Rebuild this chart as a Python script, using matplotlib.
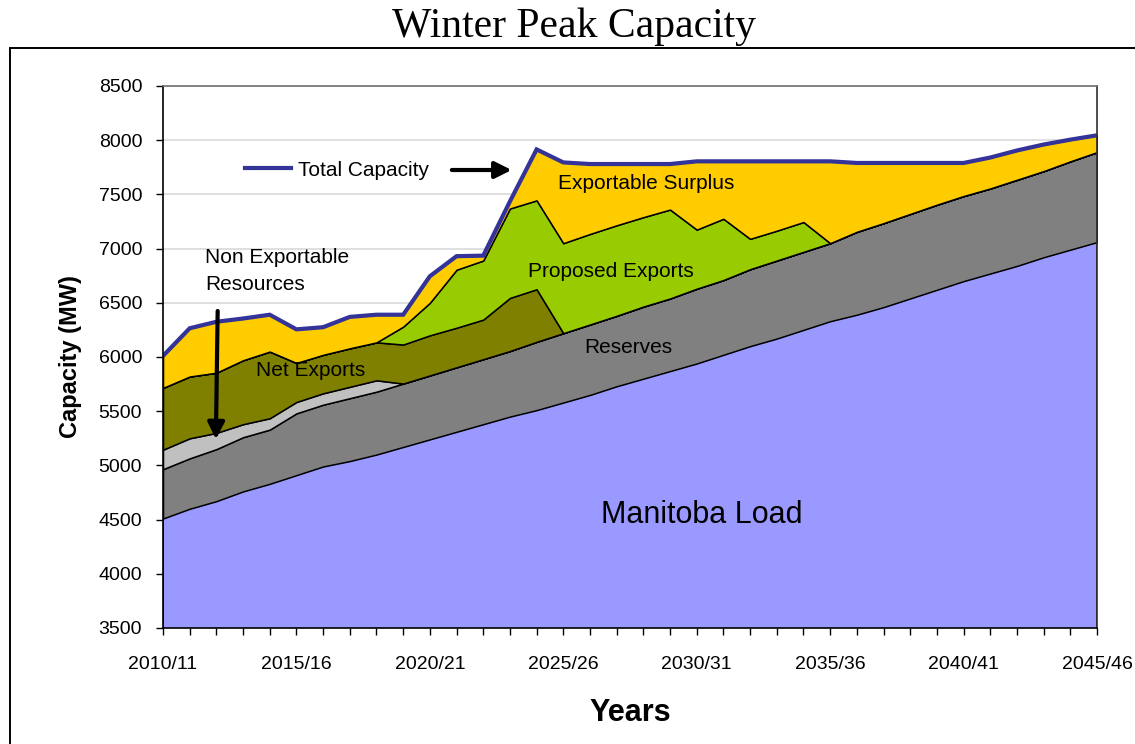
import matplotlib

matplotlib.use("Agg")
import matplotlib.pyplot as plt
from matplotlib.lines import Line2D
from matplotlib.patches import Rectangle
import numpy as np

# fiscal years 2010/11 .. 2045/46
years = [f"{y}/{(y + 1) % 100:02d}" for y in range(2010, 2046)]
tick_labels = ["2010/11", "2015/16", "2020/21", "2025/26", "2030/31", "2035/36", "2040/41", "2045/46"]

manitoba_load = [4510, 4600, 4670, 4760, 4830, 4910, 4990, 5040, 5100, 5170, 5240, 5310,
                 5380, 5450, 5510, 5580, 5650, 5730, 5800, 5870, 5940, 6020, 6100, 6170,
                 6250, 6330, 6390, 6460, 6540, 6620, 6700, 6770, 6840, 6920, 6990, 7060]
reserves = [455, 465, 480, 500, 500, 570, 570, 580, 580, 585, 590, 595,
            600, 605, 630, 640, 650, 650, 665, 670, 690, 690, 710, 720,
            720, 720, 765, 775, 780, 785, 785, 785, 795, 795, 815, 830]
non_exportable = [180, 185, 150, 120, 105, 105, 105, 105, 105, 0, 0, 0,
                  0, 0, 0, 0, 0, 0, 0, 0, 0, 0, 0, 0,
                  0, 0, 0, 0, 0, 0, 0, 0, 0, 0, 0, 0]
net_exports = [570, 570, 555, 590, 615, 360, 355, 355, 350, 360, 370, 365,
               365, 490, 485, 0, 0, 0, 0, 0, 0, 0, 0, 0,
               0, 0, 0, 0, 0, 0, 0, 0, 0, 0, 0, 0]
proposed_exports = [0, 0, 0, 0, 0, 0, 0, 0, 0, 165, 300, 535,
                    545, 825, 820, 830, 835, 835, 825, 820, 545, 565, 280, 275,
                    275, 0, 0, 0, 0, 0, 0, 0, 0, 0, 0, 0]
exportable_surplus = [295, 445, 470, 385, 340, 310, 255, 290, 255, 110, 245, 125,
                      45, 65, 470, 745, 645, 565, 490, 420, 630, 530, 715, 640,
                      560, 755, 635, 555, 470, 385, 305, 285, 270, 245, 200, 155]
total_capacity = [6010, 6265, 6325, 6355, 6390, 6255, 6275, 6370, 6390, 6390, 6745, 6930,
                  6935, 7435, 7915, 7795, 7780, 7780, 7780, 7780, 7805, 7805, 7805, 7805,
                  7805, 7805, 7790, 7790, 7790, 7790, 7790, 7840, 7905, 7960, 8005, 8045]

plt.rcParams["font.family"] = ["Liberation Sans", "DejaVu Sans"]

colors = ["#9999FF", "#808080", "#C0C0C0", "#808000", "#99CC00", "#FFCC00"]
x = np.arange(len(years))

fig = plt.figure(figsize=(11.35, 7.44), dpi=100)
ax = fig.add_axes([163 / 1135, 1 - 628 / 744, 934 / 1135, 542 / 744])

ax.stackplot(x, manitoba_load, reserves, non_exportable, net_exports,
             proposed_exports, exportable_surplus,
             colors=colors, edgecolor="black", linewidth=1.1, zorder=2)
ax.plot(x, total_capacity, color="#333399", linewidth=3.0, zorder=4,
        solid_joinstyle="miter")

ax.set_xlim(0, len(years) - 1)
ax.set_ylim(3500, 8500)
ax.set_yticks(np.arange(3500, 8501, 500))
ax.set_xticks(x)
ax.set_xticklabels([y if y in tick_labels else "" for y in years])
ax.tick_params(axis="x", direction="out", length=5, width=1, labelsize=14, pad=15, colors="black")
ax.tick_params(axis="y", direction="out", length=5, width=1, labelsize=14, pad=10, colors="black")
ax.grid(axis="y", color="#d9d9d9", linewidth=1.2, zorder=0)
ax.set_axisbelow(True)
ax.spines["left"].set_color("black")
ax.spines["bottom"].set_color("black")
ax.spines["top"].set_color("#707070")
ax.spines["right"].set_color("#303030")
for s in ax.spines.values():
    s.set_linewidth(1.2)
    s.set_zorder(5)

ax.set_ylabel("Capacity (MW)", fontsize=17, fontweight="bold", labelpad=12)
ax.set_xlabel("Years", fontsize=22, fontweight="bold", labelpad=18)

# in-chart labels
ax.text(20.2, 4540, "Manitoba Load", fontsize=22, ha="center", va="center", zorder=6)
ax.text(18.1, 7596, "Exportable Surplus", fontsize=15, ha="center", va="center", zorder=6)
ax.text(16.8, 6793, "Proposed Exports", fontsize=15, ha="center", va="center", zorder=6)
ax.text(17.45, 6085, "Reserves", fontsize=15, ha="center", va="center", zorder=6)
ax.text(5.55, 5880, "Net Exports", fontsize=15, ha="center", va="center", zorder=6)
ax.text(1.57, 6795, "Non Exportable\nResources", fontsize=15, ha="left", va="center",
        linespacing=1.5, zorder=6)

arrow_style = dict(arrowstyle="-|>,head_length=1.0,head_width=0.5", color="black", lw=3)
ax.annotate("", xy=(1.98, 5215), xytext=(2.05, 6450), arrowprops=arrow_style, zorder=6)
ax.annotate("", xy=(13.17, 7725), xytext=(10.72, 7725), arrowprops=arrow_style, zorder=6)

legend_line = Line2D([], [], color="#333399", linewidth=3.0)
ax.legend(handles=[legend_line], labels=["Total Capacity"], loc="center left",
          bbox_to_anchor=(0.0878, 0.845), frameon=False, fontsize=15,
          handlelength=2.2, handletextpad=0.35, borderpad=0, borderaxespad=0)

fig.text(574 / 1135, 1 - 27 / 744, "Winter Peak Capacity", fontsize=30,
         family=["Liberation Serif", "DejaVu Serif"], ha="center", va="center")

fig.patches.append(Rectangle((10 / 1135, -0.05), 1.2, 1.05 - 48 / 744, transform=fig.transFigure,
                             fill=False, edgecolor="black", linewidth=1.4, clip_on=False))

fig.savefig("out.png", dpi=100, facecolor="white")
